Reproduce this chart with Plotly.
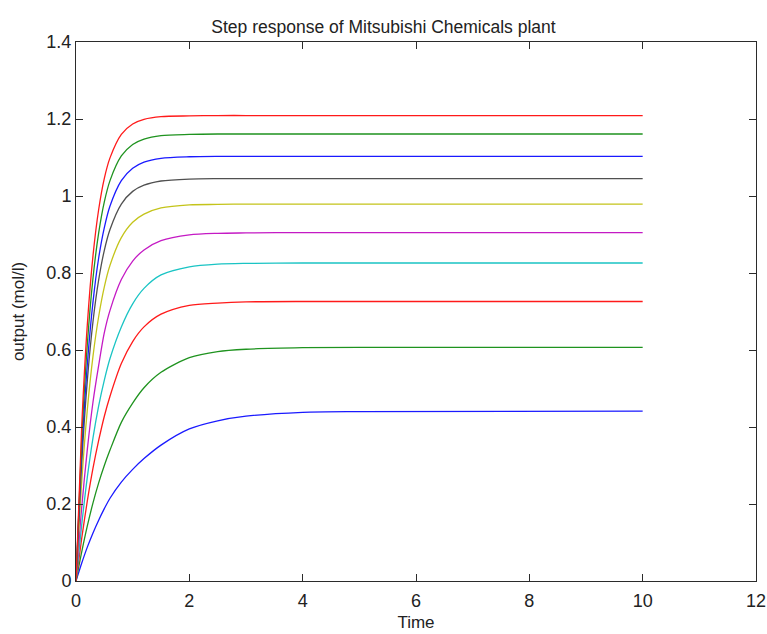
import plotly.graph_objects as go

# Time samples (s)
time = [0, 0.1, 0.2, 0.3, 0.4, 0.5, 0.6, 0.8, 1.0, 1.2, 1.5, 2.0, 2.5, 3.0, 4.0, 5.0, 10.0]

# Output curves (mol/l), bottom to top
out_1 = [0, 0.046, 0.088, 0.125, 0.158, 0.188, 0.215, 0.257, 0.290, 0.318, 0.353, 0.395, 0.416, 0.428, 0.438, 0.440, 0.441]
out_2 = [0, 0.075, 0.143, 0.203, 0.255, 0.300, 0.340, 0.412, 0.462, 0.502, 0.542, 0.580, 0.596, 0.602, 0.606, 0.607, 0.607]
out_3 = [0, 0.110, 0.208, 0.293, 0.365, 0.428, 0.480, 0.565, 0.622, 0.660, 0.693, 0.716, 0.722, 0.725, 0.726, 0.726, 0.726]
out_4 = [0, 0.145, 0.270, 0.372, 0.455, 0.522, 0.578, 0.660, 0.720, 0.760, 0.795, 0.816, 0.823, 0.825, 0.826, 0.826, 0.826]
out_5 = [0, 0.190, 0.342, 0.465, 0.560, 0.645, 0.703, 0.783, 0.831, 0.860, 0.884, 0.899, 0.903, 0.904, 0.905, 0.905, 0.905]
out_6 = [0, 0.256, 0.445, 0.584, 0.687, 0.764, 0.820, 0.892, 0.932, 0.953, 0.969, 0.977, 0.978, 0.979, 0.979, 0.979, 0.979]
out_7 = [0, 0.305, 0.521, 0.674, 0.782, 0.859, 0.913, 0.979, 1.012, 1.028, 1.039, 1.044, 1.045, 1.045, 1.045, 1.045, 1.045]
out_8 = [0, 0.331, 0.563, 0.725, 0.839, 0.918, 0.974, 1.040, 1.072, 1.088, 1.098, 1.102, 1.103, 1.103, 1.103, 1.103, 1.103]
out_9 = [0, 0.365, 0.615, 0.787, 0.904, 0.985, 1.040, 1.104, 1.134, 1.148, 1.157, 1.160, 1.161, 1.161, 1.161, 1.161, 1.161]
out_10 = [0, 0.399, 0.666, 0.845, 0.965, 1.046, 1.099, 1.160, 1.187, 1.199, 1.206, 1.208, 1.209, 1.209, 1.209, 1.209, 1.209]

series = [out_1, out_2, out_3, out_4, out_5, out_6, out_7, out_8, out_9, out_10]
colors = ["#1a1aff", "#1f931f", "#ff1a1a", "#1ac4c4", "#c41ac4", "#c4c41a",
          "#505050", "#1a1aff", "#1f931f", "#ff1a1a"]

x_ticks = [0, 2, 4, 6, 8, 10, 12]
y_ticks = [0, 0.2, 0.4, 0.6, 0.8, 1.0, 1.2, 1.4]
y_tick_text = ["0", "0.2", "0.4", "0.6", "0.8", "1", "1.2", "1.4"]

FONT = "Liberation Sans, Arial, sans-serif"
TXT = "#222222"

fig = go.Figure()
for ys, c in zip(series, colors):
    fig.add_trace(go.Scatter(x=time, y=ys, mode="lines",
                             line=dict(color=c, width=1.3, shape="spline", smoothing=0.8),
                             showlegend=False, hoverinfo="skip"))

axis_common = dict(showline=True, linecolor="#2b2b2b", linewidth=1, mirror="ticks",
                   ticks="inside", ticklen=7, tickcolor="#2b2b2b", tickwidth=1,
                   showgrid=False, zeroline=False, automargin=False,
                   ticklabeloverflow="allow",
                   tickfont=dict(family=FONT, size=18, color=TXT))

fig.update_layout(
    width=767, height=634,
    margin=dict(l=76, r=11, t=42, b=53, autoexpand=False),
    paper_bgcolor="white", plot_bgcolor="white",
    title=dict(text="Step response of Mitsubishi Chemicals plant",
               x=0.5, xref="container", xanchor="center", y=0.967, yref="container",
               font=dict(family=FONT, size=17.5, color=TXT)),
    xaxis=dict(range=[0, 12], tickvals=x_ticks, ticklabelstandoff=3, **axis_common,
               title=dict(text="Time", font=dict(family=FONT, size=17, color=TXT), standoff=6)),
    yaxis=dict(range=[0, 1.4], tickvals=y_ticks, ticktext=y_tick_text, **axis_common,
               title=dict(text="output (mol/l)", font=dict(family=FONT, size=17, color=TXT), standoff=17)),
)

fig.write_html("out.html")
